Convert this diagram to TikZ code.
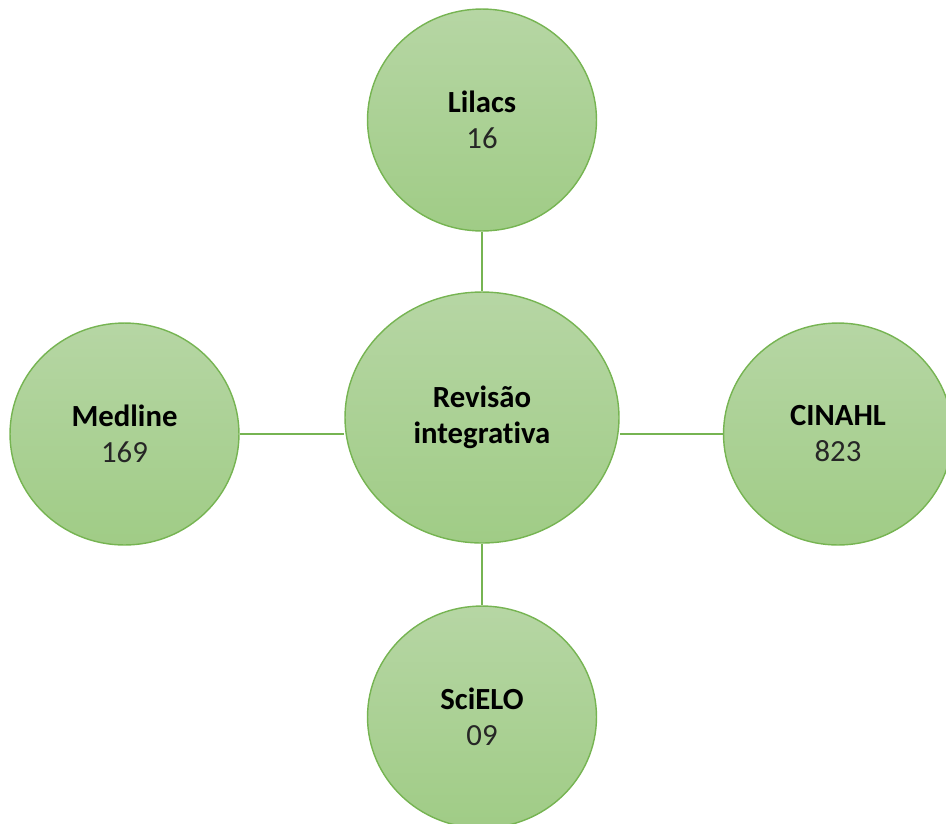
\documentclass[tikz,border=0pt]{standalone}
\usepackage{fontspec}
\setmainfont{Carlito}[Ligatures=CommonOff]
\usetikzlibrary{shapes.geometric}
\definecolor{grtop}{RGB}{182,214,164}
\definecolor{grbot}{RGB}{160,204,134}
\definecolor{grline}{RGB}{118,180,82}
\definecolor{numgray}{RGB}{38,38,38}

\begin{document}
\begin{tikzpicture}[x=0.02cm,y=-0.02cm,
  base/.style={draw=grline,line width=0.8pt,ellipse,top color=grtop,bottom color=grbot,inner sep=0pt,align=center,font=\fontsize{17.5}{20.5}\selectfont},
  sat/.style={base,minimum width=4.58cm,minimum height=4.44cm},
  link/.style={draw=grline,line width=0.8pt}]
  \useasboundingbox (0,0) rectangle (946,823);

  \node[base,minimum width=5.48cm,minimum height=5.02cm] (centre) at (482,417.5) {\textbf{Revisão}\\\textbf{integrativa}};

  \node[sat] (lilacs) at (482,120) {\textbf{Lilacs}\\\textcolor{numgray}{16}};
  \node[sat] (medline) at (124.5,434) {\textbf{Medline}\\\textcolor{numgray}{169}};
  \node[sat] (cinahl) at (838,434) {\textbf{CINAHL}\\\textcolor{numgray}{823}};
  \node[sat] (scielo) at (482,717) {\textbf{SciELO}\\\textcolor{numgray}{09}};

  \draw[link] (lilacs.south) -- (centre.north);
  \draw[link] (centre.south) -- (scielo.north);
  \draw[link] (medline.east) -- (medline.east -| centre.west);
  \draw[link] (cinahl.west) -- (cinahl.west -| centre.east);
\end{tikzpicture}
\end{document}
